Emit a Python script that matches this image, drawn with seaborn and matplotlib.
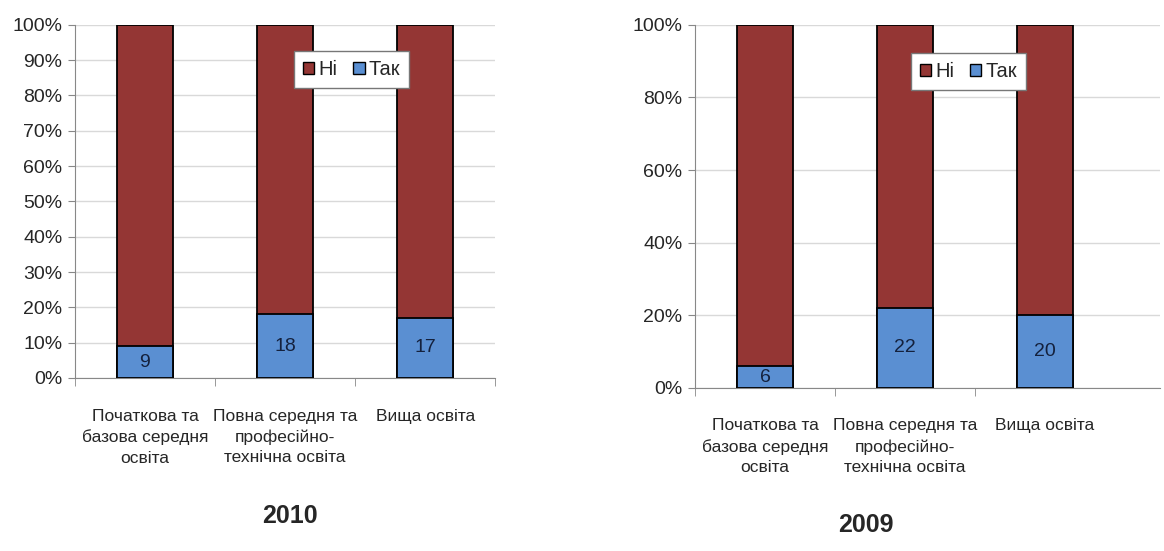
import matplotlib
matplotlib.use("Agg")
import matplotlib.pyplot as plt
import seaborn as sns
from matplotlib.patches import Patch

# data
categories = ["Початкова та\nбазова середня\nосвіта",
              "Повна середня та\nпрофесійно-\nтехнічна освіта",
              "Вища освіта"]
tak_2010 = [9, 18, 17]
tak_2009 = [6, 22, 20]
total = [100, 100, 100]
series_names = ["Ні", "Так"]

red = "#943634"
blue = "#5A8FD2"

sns.set_style("white")
plt.rcParams["font.family"] = ["Liberation Sans Narrow", "Liberation Sans", "DejaVu Sans"]

fig = plt.figure(figsize=(11.64, 5.51), dpi=100)
ax1 = fig.add_axes([0.0644, 0.314, 0.361, 0.641])
ax2 = fig.add_axes([0.597, 0.296, 0.3995, 0.659])


def draw(ax, tak, yticks, xright, bounds, leg_box, title, title_y):
    sns.barplot(x=categories, y=total, color=red, width=0.4, ax=ax,
                edgecolor="black", linewidth=1.3, saturation=1, zorder=3)
    sns.barplot(x=categories, y=tak, color=blue, width=0.4, ax=ax,
                edgecolor="black", linewidth=1.3, saturation=1, zorder=4)
    # labels on blue segments
    for i, v in enumerate(tak):
        ax.text(i, v / 2, str(v), ha="center", va="center", fontsize=14,
                color="#14213d", zorder=5)
    ax.set_ylim(0, 100)
    ax.set_xlim(-0.5, xright)
    ax.set_yticks(yticks)
    ax.set_yticklabels([f"{t}%" for t in yticks], fontsize=14)
    ax.yaxis.grid(True, color="#d9d9d9", linewidth=1)
    ax.set_axisbelow(True)
    for s in ["top", "right"]:
        ax.spines[s].set_visible(False)
    ax.spines["left"].set_color("#888888")
    ax.spines["bottom"].set_color("#888888")
    ax.tick_params(axis="y", length=5, color="#888888", direction="out", pad=4, left=True)
    ax.set_xticks([0, 1, 2])
    ax.set_xticklabels(categories, fontsize=12.5, linespacing=1.45, va="top")
    ax.tick_params(axis="x", length=0, pad=22)
    ax.set_xticks(bounds, minor=True)
    ax.tick_params(axis="x", which="minor", length=6, color="#888888", bottom=True)
    ax.set_ylabel("")
    handles = [Patch(facecolor=red, edgecolor="black"),
               Patch(facecolor=blue, edgecolor="black")]
    leg = ax.legend(handles, series_names, ncol=2, loc="center",
                    bbox_to_anchor=leg_box, fontsize=14.5, frameon=True,
                    fancybox=False, handlelength=0.55, handleheight=0.55,
                    handletextpad=0.2, columnspacing=0.8, borderpad=0.45)
    leg.get_frame().set_edgecolor("#777777")
    leg.get_frame().set_linewidth(1)
    leg.get_frame().set_alpha(1)
    leg.set_zorder(10)
    fig.text(title[0], title_y, title[1], ha="center", fontsize=18,
             fontweight="bold", family=["Liberation Sans", "DejaVu Sans"])


draw(ax1, tak_2010, list(range(0, 101, 10)), 2.5, [-0.5, 0.5, 1.5, 2.5],
     (0.519, 0.816, 0.279, 0.113), (0.249, "2010"), 0.05)
draw(ax2, tak_2009, list(range(0, 101, 20)), 2.82, [-0.5, 0.5, 1.5],
     (0.462, 0.815, 0.252, 0.111), (0.744, "2009"), 0.035)

fig.savefig("out.png", dpi=100)
